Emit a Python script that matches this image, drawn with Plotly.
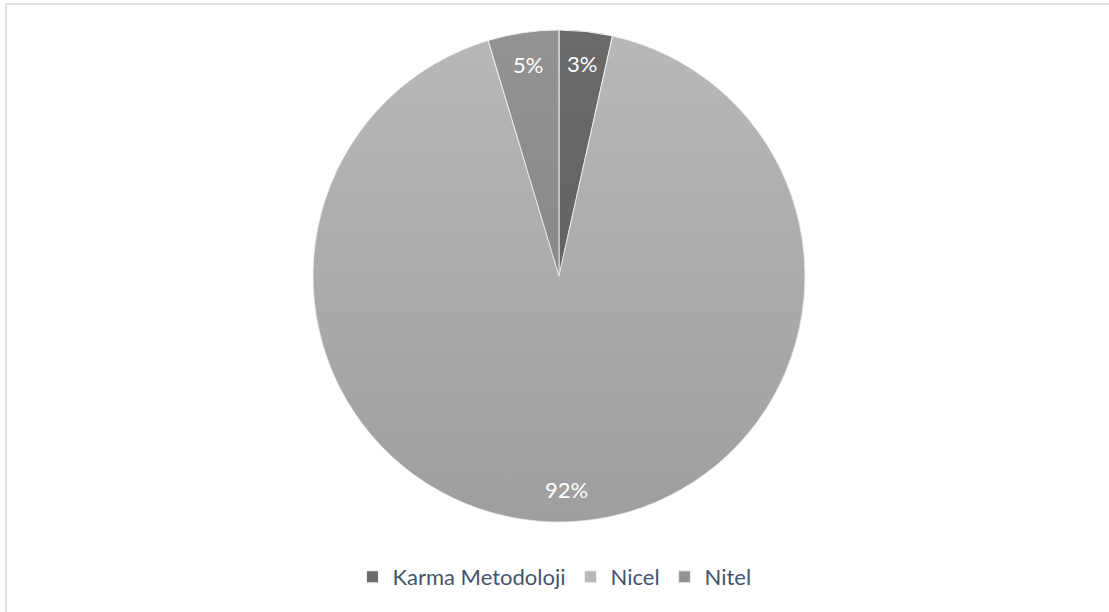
import math
import base64
import plotly.graph_objects as go

# Study counts by research methodology
categories = ["Karma Metodoloji", "Nicel", "Nitel"]
counts = [3, 79, 4]
slice_colors = ["#6a6a6a", "#b8b8b8", "#939393"]

W, H = 1109, 612
cx, cy, radius = 559, 276, 246


def px_x(x):
    return x / W


def px_y(y):
    return 1 - y / H


dom_x = [px_x(cx - radius), px_x(cx + radius)]
dom_y = [px_y(cy + radius), px_y(cy - radius)]

fig = go.Figure()
fig.add_trace(go.Pie(
    labels=categories,
    values=counts,
    sort=False,
    direction="clockwise",
    rotation=0,
    textinfo="none",
    hoverinfo="label+percent",
    marker=dict(colors=slice_colors, line=dict(color="#f2f2f2", width=1)),
    domain=dict(x=dom_x, y=dom_y),
))

# Soft top-to-bottom shading over the disc
shade_svg = (
    '<svg xmlns="http://www.w3.org/2000/svg" viewBox="0 0 100 100" '
    'preserveAspectRatio="none">'
    '<defs><linearGradient id="g" x1="0" y1="0" x2="0" y2="1">'
    '<stop offset="0" stop-color="#000" stop-opacity="0"/>'
    '<stop offset="1" stop-color="#000" stop-opacity="0.14"/>'
    '</linearGradient></defs>'
    '<circle cx="50" cy="50" r="50" fill="url(#g)"/></svg>'
)
fig.add_layout_image(
    source="data:image/svg+xml;base64," + base64.b64encode(shade_svg.encode()).decode(),
    xref="paper", yref="paper",
    x=dom_x[0], y=dom_y[1],
    sizex=dom_x[1] - dom_x[0], sizey=dom_y[1] - dom_y[0],
    xanchor="left", yanchor="top",
    sizing="stretch", layer="above",
)

# Percentage labels placed near the outer edge of each slice
total = sum(counts)
start = 0.0
for val in counts:
    frac = val / total
    mid = (start + frac / 2) * 2 * math.pi
    start += frac
    r = radius * 0.87
    lx = cx + r * math.sin(mid)
    ly = cy - r * math.cos(mid)
    fig.add_annotation(
        x=px_x(lx), y=px_y(ly), xref="paper", yref="paper",
        text=f"{round(frac * 100)}%", showarrow=False,
        font=dict(family="Lato, Open Sans, sans-serif", size=22, color="#ffffff"),
        xanchor="center", yanchor="middle",
    )

# Chart frame
frame = dict(color="#d9d9d9", width=1.5)
fig.add_shape(type="line", xref="paper", yref="paper",
              x0=px_x(6), y0=px_y(4), x1=1.0, y1=px_y(4), line=frame)
fig.add_shape(type="line", xref="paper", yref="paper",
              x0=px_x(6), y0=px_y(4), x1=px_x(6), y1=0.0, line=frame)

fig.update_layout(
    width=W, height=H,
    margin=dict(l=0, r=0, t=0, b=0),
    paper_bgcolor="#ffffff",
    plot_bgcolor="#ffffff",
    showlegend=True,
    legend=dict(
        orientation="h",
        x=0.5, xanchor="center",
        y=px_y(577), yanchor="middle",
        font=dict(family="Lato, Open Sans, sans-serif", size=22, color="#44546a"),
        itemwidth=30,
        traceorder="normal",
    ),
)

fig.write_html("out.html")
